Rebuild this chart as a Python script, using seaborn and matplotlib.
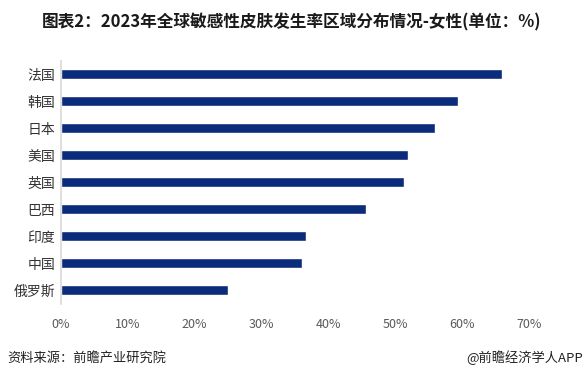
import pandas as pd
import seaborn as sns
import matplotlib.pyplot as plt
from matplotlib.ticker import FuncFormatter

# data
regions = ['法国', '韩国', '日本', '美国', '英国', '巴西', '印度', '中国', '俄罗斯']
rates = [65.9, 59.4, 55.9, 51.9, 51.3, 45.6, 36.6, 36.0, 25.0]
x_ticks = [0, 10, 20, 30, 40, 50, 60, 70]

title = '图表2：2023年全球敏感性皮肤发生率区域分布情况-女性(单位：%)'
source = '资料来源：前瞻产业研究院'
credit = '@前瞻经济学人APP'

sns.set_theme(style='white')
plt.rcParams['font.family'] = ['Noto Sans CJK SC', 'DejaVu Sans']

df = pd.DataFrame({'region': regions, 'rate': rates})

fig = plt.figure(figsize=(5.86, 3.81), dpi=100)
ax = fig.add_axes([0.104, 0.203, 0.799, 0.638])

sns.barplot(data=df, x='rate', y='region', orient='h', color='#0b2c7b',
            width=0.37, saturation=1, ax=ax)

ax.set_xlim(0, 70)
ax.set_ylim(len(regions) - 0.5, -0.5)
ax.set_xticks(x_ticks)
ax.xaxis.set_major_formatter(FuncFormatter(lambda v, p: f'{v:.0f}%'))
ax.set_xlabel('')
ax.set_ylabel('')
ax.tick_params(axis='x', labelsize=9, colors='#595959', length=0, pad=10)
ax.tick_params(axis='y', labelsize=10, colors='#333333', length=0, pad=4)

for s in ['top', 'right', 'bottom']:
    ax.spines[s].set_visible(False)
ax.spines['left'].set_color('#d9d9d9')
ax.spines['left'].set_linewidth(1.2)

fig.text(0.497, 0.942, title, ha='center', va='center', fontsize=12,
         fontweight='bold', color='#1a1a1a')
fig.text(0.012, 0.06, source, ha='left', va='center', fontsize=9.5, color='#222222')
fig.text(0.995, 0.06, credit, ha='right', va='center', fontsize=9.5, color='#222222')

fig.savefig('out.png', dpi=100)
